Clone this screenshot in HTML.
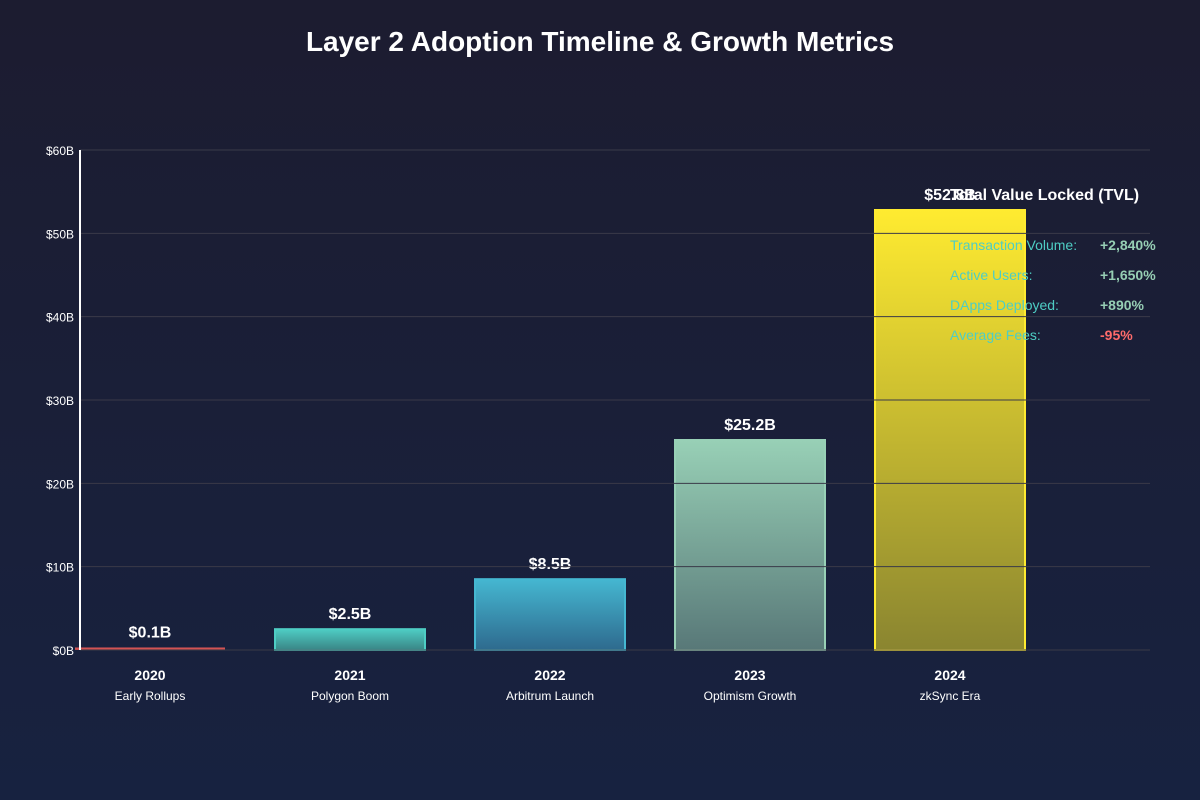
<!DOCTYPE html>
<html><head><meta charset="utf-8"><style>
html,body{margin:0;padding:0;}
body{width:1200px;height:800px;background:linear-gradient(180deg,#1c1c30 0%,#1a1f38 50%,#172240 100%);font-family:"Liberation Sans",sans-serif;overflow:hidden;}
svg{display:block;}
</style></head><body>
<svg id="chart" width="1200" height="800" xmlns="http://www.w3.org/2000/svg" font-family="Liberation Sans, sans-serif">
<defs>
<linearGradient id="g0" x1="0" y1="0" x2="0" y2="1"><stop offset="0" stop-color="#e05a5a"/><stop offset="1" stop-color="#c04848"/></linearGradient>
<linearGradient id="g1" x1="0" y1="0" x2="0" y2="1"><stop offset="0" stop-color="#4ecdc4"/><stop offset="1" stop-color="#3a8585"/></linearGradient>
<linearGradient id="g2" x1="0" y1="0" x2="0" y2="1"><stop offset="0" stop-color="#45b7d1"/><stop offset="1" stop-color="#2e6a8e"/></linearGradient>
<linearGradient id="g3" x1="0" y1="0" x2="0" y2="1"><stop offset="0" stop-color="#98d0b6"/><stop offset="1" stop-color="#587878"/></linearGradient>
<linearGradient id="g4" x1="0" y1="0" x2="0" y2="1"><stop offset="0" stop-color="#ffeb30"/><stop offset="1" stop-color="#8a8530"/></linearGradient>
</defs>
<text x="600" y="51" text-anchor="middle" fill="#ffffff" font-size="28" font-weight="bold">Layer 2 Adoption Timeline &amp; Growth Metrics</text>
<g id="bars"></g>
<g id="labels"></g>
<g id="grid"></g>
<line x1="80" y1="150" x2="80" y2="650" stroke="#ffffff" stroke-width="2"/>
<text x="950" y="200" fill="#ffffff" font-size="16" font-weight="bold">Total Value Locked (TVL)</text>
<g id="metrics"></g>
</svg>
<script>
const years=["2020","2021","2022","2023","2024"];
const eras=["Early Rollups","Polygon Boom","Arbitrum Launch","Optimism Growth","zkSync Era"];
const tvl=[0.1,2.5,8.5,25.2,52.8];
const tickValues=[0,10,20,30,40,50,60];
const metricNames=["Transaction Volume:","Active Users:","DApps Deployed:","Average Fees:"];
const metricValues=["+2,840%","+1,650%","+890%","-95%"];
const NS="http://www.w3.org/2000/svg";
const fills=["url(#g0)","url(#g1)","url(#g2)","url(#g3)","url(#g4)"];
const strokes=["#e05a5a","#4ecdc4","#45b7d1","#98d0b6","#ffeb30"];
const y=v=>650-v*500/60;
const x=i=>150+i*200;
function mk(tag,attrs,parent,text){const e=document.createElementNS(NS,tag);for(const k in attrs)e.setAttribute(k,attrs[k]);if(text!==undefined)e.textContent=text;document.getElementById(parent).appendChild(e);return e;}
tvl.forEach((v,i)=>{
  const h=Math.max(650-y(v),2.5);
  const r=mk('rect',{x:x(i)-75,y:650-h,width:150,height:h,fill:fills[i],stroke:strokes[i],'stroke-width':i==0?0:2},'bars');
  
  
  const t=mk('text',{x:x(i),y:650-h-10,'text-anchor':'middle',fill:'#fff','font-size':16,'font-weight':'bold'},'labels','$'+v+'B');
  
  
  const yl=mk('text',{x:x(i),y:680,'text-anchor':'middle',fill:'#fff','font-size':14,'font-weight':'bold'},'labels',years[i]);
  
  
  const el=mk('text',{x:x(i),y:700,'text-anchor':'middle',fill:'#fff','font-size':12},'labels',eras[i]);
  
  
});
tickValues.forEach(v=>{
  const l=mk('line',{x1:80,x2:1150,y1:y(v),y2:y(v),stroke:'#3a3a48','stroke-width':1},'grid');
  
  
  const t=mk('text',{x:74,y:y(v)+5,'text-anchor':'end',fill:'#fff','font-size':12},'grid','$'+v+'B');
  
  
});
metricNames.forEach((n,i)=>{
  const a=mk('text',{x:950,y:250+i*30,fill:'#4ecdc4','font-size':14},'metrics',n);
  
  
  const b=mk('text',{x:1100,y:250+i*30,fill:metricValues[i][0]=='-'?'#ff6b6b':'#96ceb4','font-size':14,'font-weight':'bold'},'metrics',metricValues[i]);
  
  
});
</script>
</body></html>
